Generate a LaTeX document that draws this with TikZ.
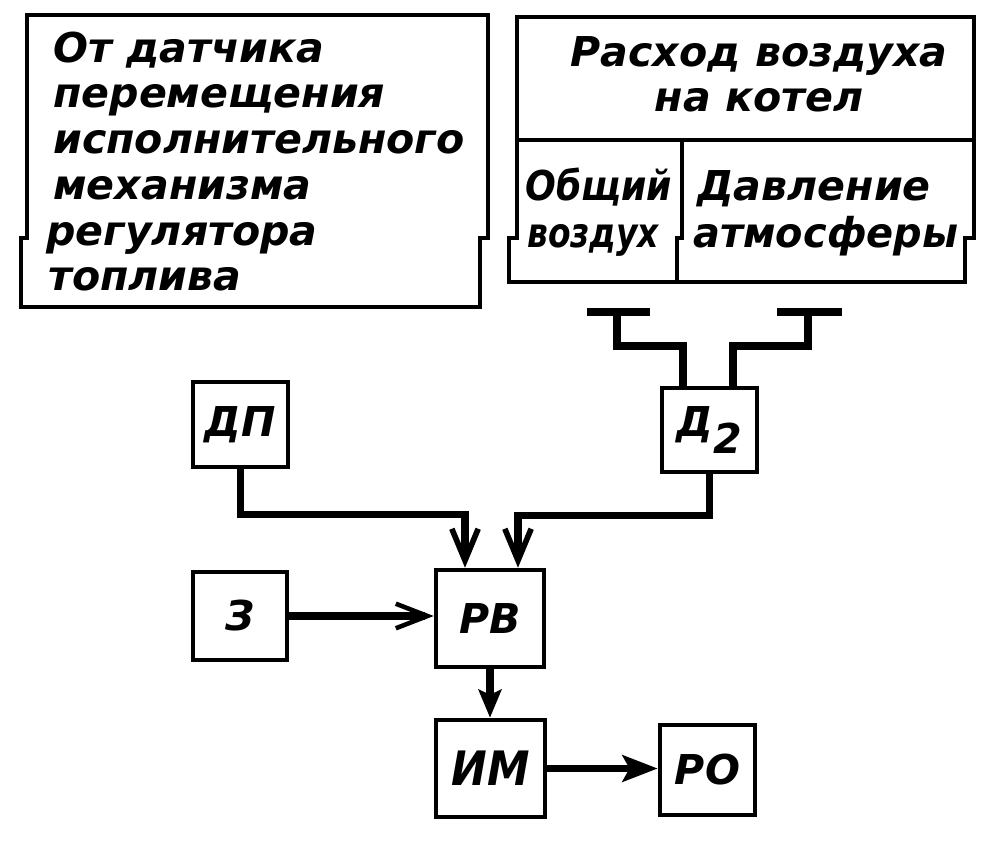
\documentclass[tikz,border=0pt]{standalone}
\usepackage{fontspec}
\setmainfont{DejaVu Sans}
\usetikzlibrary{arrows.meta}
\newcommand\txtfont{\fontsize{23.4pt}{26pt}\selectfont\bfseries\itshape}
\newcommand\bigfont{\fontsize{27pt}{30pt}\selectfont\bfseries\itshape}
\tikzset{
  box/.style={draw, line width=2.6pt, inner sep=0pt, font=\txtfont},
  frame/.style={line width=2.6pt, line join=miter},
  conn/.style={line width=4pt, line join=miter},
  tapline/.style={line width=4.4pt, line join=miter},
  txt/.style={inner sep=0pt, anchor=base west, font=\txtfont},
  ctxt/.style={inner sep=0pt, anchor=base, font=\txtfont},
  barbthick/.tip={Straight Barb[length=18pt,width=15pt,line width=3.2pt]},
  barbthin/.tip={Straight Barb[length=18pt,width=14pt,line width=2.6pt]},
  solidtip/.tip={Stealth[length=16pt,width=13pt,inset=3pt]},
  bigtip/.tip={Stealth[length=20pt,width=15pt,inset=4pt]},
}
\begin{document}
\begin{tikzpicture}[x=0.02cm,y=-0.02cm]
\useasboundingbox (0,0) rectangle (1000,841);

% left frame (scan shift at y=238)
\draw[frame] (27,238) -- (27,15) -- (488,15) -- (488,238) -- (480,238) -- (480,307) -- (21,307) -- (21,238) -- cycle;
\node[txt] (l1) at (53,63) {От датчика};
\node[txt] (l2) at (53,108) {перемещения};
\node[txt] (l3) at (53,154) {исполнительного};
\node[txt] (l4) at (53,199) {механизма};
\node[txt] (l5) at (46,245) {регулятора};
\node[txt] (l6) at (48,290) {топлива};

% right frame
\draw[frame] (517,238) -- (517,17) -- (974,17) -- (974,238) -- (965,238) -- (965,282) -- (509,282) -- (509,238) -- cycle;
\draw[frame] (517,140) -- (974,140);
\draw[frame] (682,140) -- (682,238) -- (677,238) -- (677,282);
\node[ctxt] (r1) at (759,67) {Расход воздуха};
\node[ctxt] (r2) at (759,112) {на котел};
\node[txt] (r3) at (525,200) {\scalebox{0.88}[1]{Общий}};
\node[txt] (r4) at (527,247) {\scalebox{0.8}[1]{воздух}};
\node[txt] (r5) at (697,200) {Давление};
\node[txt] (r6) at (693,247) {\scalebox{0.97}[1]{атмосферы}};

% blocks
\node[box, minimum width=1.9cm, minimum height=1.7cm] (dp) at (240.5,424.5) {ДП};
\node[box, minimum width=1.9cm, minimum height=1.68cm] (d2) at (709.5,430) {Д\raisebox{-10pt}{2}};
\node[box, minimum width=1.88cm, minimum height=1.76cm] (z) at (240,616) {З};
\node[box, minimum width=2.16cm, minimum height=1.94cm] (rv) at (490,618.5) {РВ};
\node[box, minimum width=2.18cm, minimum height=1.94cm] (im) at (490.5,768.5) {\bigfont\scalebox{0.9}[1]{ИМ}};
\node[box, minimum width=1.9cm, minimum height=1.8cm] (ro) at (707.5,770) {РО};

% pressure taps
\coordinate (tapL) at (617,312);
\coordinate (tapR) at (808,312);
\draw[tapline] ([xshift=-0.6cm]tapL) -- ([xshift=0.66cm]tapL);
\draw[tapline] ([xshift=-0.62cm]tapR) -- ([xshift=0.68cm]tapR);
\draw[tapline] ([xshift=-0.53cm]d2.north) -- ++(0,-40) -| (tapL);
\draw[tapline] ([xshift=0.47cm]d2.north) -- ++(0,-40) -| (tapR);

% connectors
\draw[conn, -barbthick] (dp.south) -- ++(0,45) -| ([xshift=-0.5cm]rv.north);
\draw[conn, -barbthick] (d2.south) -- ++(0,41) -| ([xshift=0.56cm]rv.north);
\draw[conn, -barbthin] (z.east) -- (z.east -| rv.west);
\draw[conn, -solidtip] (rv.south) -- (rv.south |- im.north);
\draw[conn, -bigtip] (im.east) -- (im.east -| ro.west);
\end{tikzpicture}
\end{document}
